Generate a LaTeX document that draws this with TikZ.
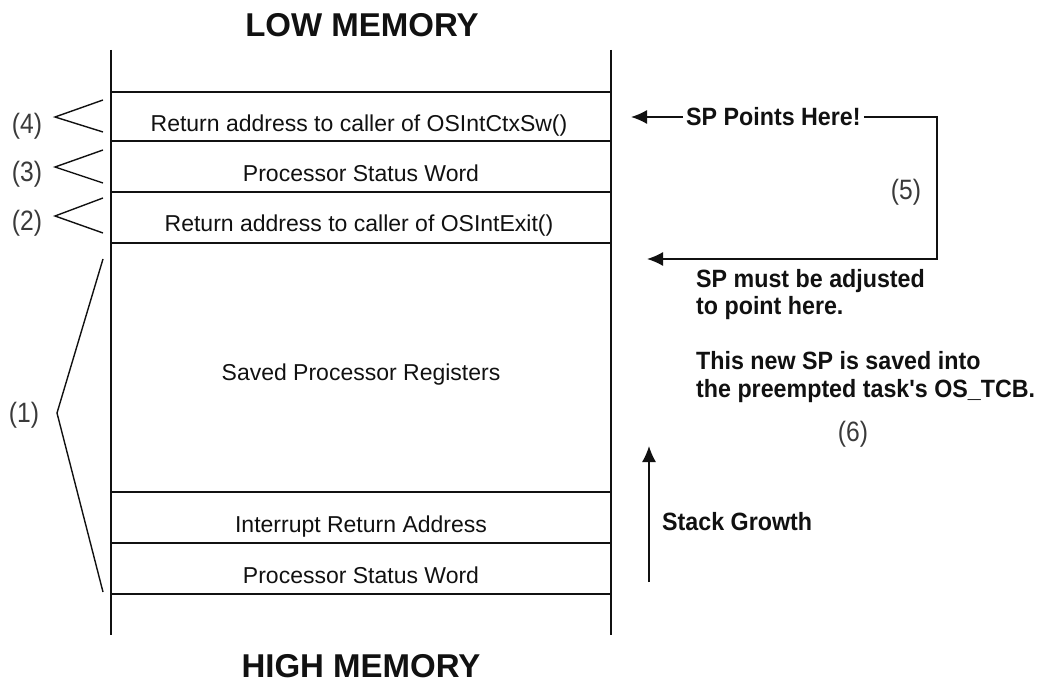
\documentclass[tikz,border=0pt]{standalone}
\usepackage{fontspec}
\setmainfont{Liberation Sans}
\newfontfamily\tagfont{Liberation Sans}[FakeStretch=0.93]
\newfontfamily\numfont{Liberation Sans}[FakeStretch=0.88]
\usetikzlibrary{arrows.meta,positioning}
\definecolor{Ink}{HTML}{111111}
\definecolor{Soft}{HTML}{3A3A3A}
\tikzset{
  arr/.style={-{Latex[length=16pt,width=14pt]},line width=1.5pt,draw=Ink},
  stackline/.style={line width=1.8pt,draw=Ink},
  brace/.style={line width=1.4pt,draw=Ink},
  rowtext/.style={font=\fontsize{23}{26}\selectfont,text=Ink,inner sep=0pt,anchor=base},
  boldtext/.style={font=\tagfont\fontsize{25}{27}\selectfont\bfseries,text=Ink,inner sep=3pt,anchor=base west},
  numtext/.style={font=\numfont\fontsize{28}{30}\selectfont,text=Soft,inner sep=0pt},
  headtext/.style={font=\fontsize{33}{36}\selectfont\bfseries,text=Ink,inner sep=0pt,anchor=base}
}
\begin{document}
\begin{tikzpicture}[x=1pt,y=-1pt]
  \useasboundingbox (0,0) rectangle (1041,684);
  % stack frame
  \draw[stackline] (111,50) -- (111,635);
  \draw[stackline] (611,50) -- (611,635);
  \foreach \yy in {92,141,192,243,492,543,594}
    \draw[stackline] (111,\yy) -- (611,\yy);
  \node[headtext] (low) at (362,37) {LOW MEMORY};
  \node[headtext] (high) at (361,677) {HIGH MEMORY};
  \node[rowtext] (r1) at (359,132) {Return address to caller of OSIntCtxSw()};
  \node[rowtext] (r2) at (361,182) {Processor Status Word};
  \node[rowtext] (r3) at (359,232) {Return address to caller of OSIntExit()};
  \node[rowtext] (r4) at (361,381) {Saved Processor Registers};
  \node[rowtext] (r5) at (361,532) {Interrupt Return Address};
  \node[rowtext] (r6) at (361,583) {Processor Status Word};
  % left brackets
  \node[numtext] (n4) at (27,126) {(4)};
  \node[numtext] (n3) at (27,174) {(3)};
  \node[numtext] (n2) at (27,223) {(2)};
  \node[numtext] (n1) at (24,415) {(1)};
  \draw[brace] (103,100) -- (55,117) -- (103,132);
  \draw[brace] (103,150) -- (55,167) -- (103,183);
  \draw[brace] (103,198) -- (55,216) -- (103,233);
  \draw[brace] (103,259) -- (57,413) -- (103,592);
  % stack pointer
  \node[boldtext] (sp) at (683,126) {SP Points Here!};
  \coordinate (sptip) at (631,117);
  \coordinate (corner) at (937,117);
  \coordinate (newtip) at (647,259);
  \draw[arr] (sp.west |- sptip) -- (sptip);
  \draw[arr] (sp.east |- corner) -- (corner) |- (newtip);
  \node[numtext] (n5) at (906,192) {(5)};
  \node[boldtext] (adj1) at (693,288) {SP must be adjusted};
  \node[boldtext] (adj2) at (693,315) {to point here.};
  \node[boldtext] (tcb1) at (693,370) {This new SP is saved into};
  \node[boldtext] (tcb2) at (693,397) {the preempted task's OS\_TCB.};
  \node[numtext] (n6) at (853,434) {(6)};
  % growth
  \node[boldtext] (grow) at (659,530) {Stack Growth};
  \coordinate (gbot) at (649,582);
  \coordinate (gtop) at (649,446);
  \draw[arr] (gbot) -- (gtop);
\end{tikzpicture}
\end{document}
